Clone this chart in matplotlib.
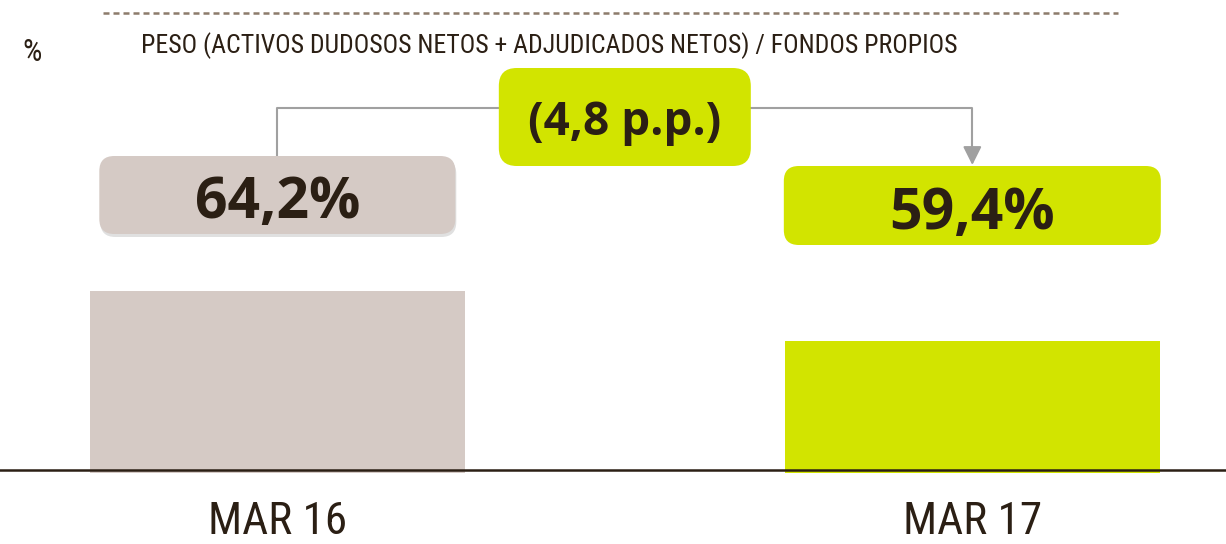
import matplotlib.pyplot as plt
import matplotlib.patheffects as pe
from matplotlib.patches import FancyBboxPatch

# Data
categories = ["MAR 16", "MAR 17"]
values = [64.2, 59.4]
value_labels = ["64,2%", "59,4%"]
change_label = "(4,8 p.p.)"
title = "PESO (ACTIVOS DUDOSOS NETOS + ADJUDICADOS NETOS) / FONDOS PROPIOS"
unit = "%"

grey = "#d5cac5"
green = "#d2e400"
dark = "#2b1f14"
line_grey = "#a0a0a0"
narrow = ["Liberation Sans Narrow", "Roboto Condensed", "DejaVu Sans"]

W, H = 1226, 544
fig = plt.figure(figsize=(W / 100, H / 100), dpi=100)

# bar axes (axis hidden, y starts near 47)
ax = fig.add_axes([0, 71 / H, 1, 473 / H])
x = list(range(len(categories)))
bars = ax.bar(x, values, width=0.54, color=[grey, green], zorder=1)
bars[0].set_path_effects([pe.SimplePatchShadow(offset=(0, -2), alpha=0.18, shadow_rgbFace="#000000"),
                          pe.Normal()])
ax.set_xlim(-0.399, 1.365)
ax.set_ylim(46.71, 92.12)
ax.axhline(47, color=dark, lw=1.8, zorder=3)
ax.axis("off")

for i, cat in enumerate(categories):
    ax.annotate(cat, (i, 47), xytext=(0, -46), textcoords="offset points",
                ha="center", va="baseline", fontsize=32.5, color=dark, family=narrow)

# overlay in pixel coordinates (origin top-left) for the label boxes
ov = fig.add_axes([0, 0, 1, 1], zorder=5)
ov.set_xlim(0, W)
ov.set_ylim(H, 0)
ov.axis("off")
ov.patch.set_alpha(0)

cx = [ax.transData.transform((i, v))[0] for i, v in enumerate(values)]

# dashed rule and titles
ov.plot([103, 1118], [13, 13], color="#8c7b6b", lw=1.8, linestyle=(0, (2.4, 1.6)))
ov.text(141, 53, title, ha="left", va="baseline", fontsize=18.5, color=dark, family=narrow)
ov.text(32, 61, unit, ha="center", va="baseline", fontsize=22, color=dark, family=narrow)

# value boxes
box_specs = [(356, 156, 234, grey, 218), (377, 166, 245, green, 229)]
for i, (w, top, bottom, col, base) in enumerate(box_specs):
    if i == 0:
        sh = FancyBboxPatch((cx[i] - w / 2 + 1, top + 3), w, bottom - top,
                            boxstyle="round,pad=0,rounding_size=15",
                            fc="#000000", ec="none", alpha=0.12, zorder=1)
        ov.add_patch(sh)
    box = FancyBboxPatch((cx[i] - w / 2, top), w, bottom - top,
                         boxstyle="round,pad=0,rounding_size=15",
                         fc=col, ec="none", zorder=2)
    ov.add_patch(box)
    ov.text(cx[i], base, value_labels[i], ha="center", va="baseline",
            fontsize=41, fontweight="bold", color=dark, family="Open Sans", zorder=3)

# connector with arrow
yc = 108
ov.plot([cx[0], cx[0], cx[1], cx[1]], [156, yc, yc, 155], color=line_grey, lw=1.5, zorder=1)
ov.annotate("", xy=(cx[1], 165), xytext=(cx[1], 150),
            arrowprops=dict(arrowstyle="-|>,head_length=0.8,head_width=0.4",
                            color=line_grey, lw=1.5, mutation_scale=14,
                            shrinkA=0, shrinkB=0), zorder=1)

# change box
mid = (cx[0] + cx[1]) / 2
cw = 252
cbox = FancyBboxPatch((mid - cw / 2, 68), cw, 98,
                      boxstyle="round,pad=0,rounding_size=18",
                      fc=green, ec="none", zorder=2)
ov.add_patch(cbox)
ov.text(mid, 135, change_label, ha="center", va="baseline",
        fontsize=33, fontweight="bold", color=dark, family="Open Sans", zorder=3)

fig.savefig("out.png", dpi=100)
